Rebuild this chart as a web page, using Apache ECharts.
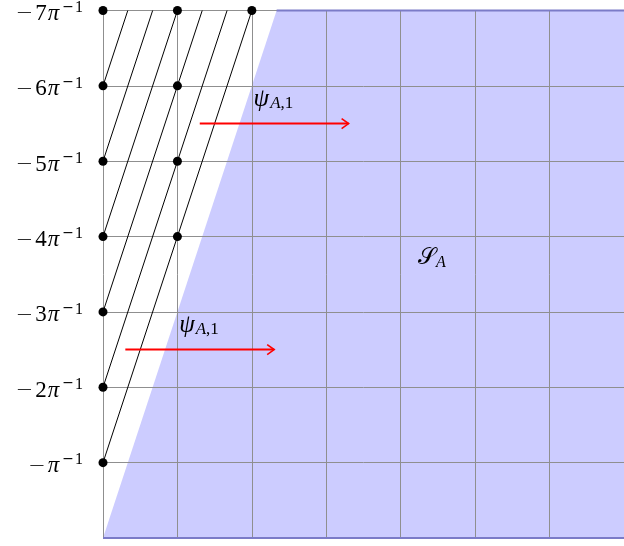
<!DOCTYPE html>
<html><head><meta charset="utf-8">
<script src="https://cdn.jsdelivr.net/npm/echarts@6/dist/echarts.min.js"></script>
<style>html,body{margin:0;padding:0;background:#fff}#c{width:624px;height:546px}</style>
</head><body><div id="c"></div>
<script>
// ---- data ----
const yTickValues = [1, 2, 3, 4, 5, 6, 7];
const yTickCoef = ['', '2', '3', '4', '5', '6', '7'];   // labels: −kπ⁻¹
const yTickSup = '1';
const regionS = [[0, 0], [2.333, 7], [7, 7], [7, 0]];
const hatchLines = [[0, 1, 2, 7], [0, 2, 1.667, 7], [0, 3, 1.333, 7], [0, 4, 1, 7], [0, 5, 0.667, 7], [0, 6, 0.333, 7]];
const dots = [[0, 1], [0, 2], [0, 3], [0, 4], [0, 5], [0, 6], [0, 7], [1, 4], [1, 5], [1, 6], [1, 7], [2, 7]];
const arrows = [[1.3, 5.5, 3.3, 5.5], [0.3, 2.5, 2.3, 2.5]];
const psiLabels = [[2.29, 5.82], [1.29, 2.82]];
const regionLabel = [[4.42, 3.71]];

const serif = "'Liberation Serif', 'DejaVu Serif', serif";
const sans = "'DejaVu Sans', sans-serif";
const chart = echarts.init(document.getElementById('c'));
chart.setOption({
  animation: false,
  grid: { left: 103, right: -9, top: 10, bottom: 8 },
  xAxis: {
    type: 'value', min: 0, max: 7, interval: 1, z: 3,
    axisLine: { show: false }, axisTick: { show: false }, axisLabel: { show: false },
    splitLine: { show: true, lineStyle: { color: '#8f8f8f', width: 1 } }
  },
  yAxis: {
    type: 'value', min: 0, max: 7, interval: 1, z: 3,
    axisLine: { show: false }, axisTick: { show: false },
    axisLabel: {
      margin: 20,
      padding: [7, 0, 0, 0],
      formatter: function (v) {
        const i = yTickValues.indexOf(v);
        if (i < 0) return '';
        return '{n|−}' + (yTickCoef[i] ? '{d|' + yTickCoef[i] + '}' : '') + '{p|π}{sn|−}{s|' + yTickSup + '}';
      },
      rich: {
        n: { fontSize: 21, fontFamily: sans, fontWeight: 300, color: '#000', lineHeight: 28, padding: [0, 2, 0, 0] },
        d: { fontSize: 23, fontFamily: serif, color: '#000', lineHeight: 28, padding: [0, 1, 0, 0] },
        p: { fontSize: 23, fontFamily: serif, fontStyle: 'italic', color: '#000', lineHeight: 28 },
        sn: { fontSize: 14, fontFamily: sans, color: '#000', lineHeight: 12, verticalAlign: 'top', padding: [0, 1, 0, 3] },
        s: { fontSize: 16, fontFamily: serif, color: '#000', lineHeight: 12, verticalAlign: 'top' }
      }
    },
    splitLine: { show: true, lineStyle: { color: '#8f8f8f', width: 1 } }
  },
  series: [
    {
      type: 'custom', z: 1, silent: true, data: [0],
      renderItem: function (params, api) {
        const pts = regionS.map(p => api.coord(p));
        return { type: 'polygon', shape: { points: pts }, style: { fill: '#ccccff', stroke: null } };
      }
    },
    {
      type: 'custom', z: 4, silent: true, data: [0],
      renderItem: function (params, api) {
        const pts = regionS.map(p => api.coord(p));
        return {
          type: 'group', children: [
            { type: 'line', shape: { x1: pts[1][0], y1: pts[1][1], x2: pts[2][0], y2: pts[2][1] }, style: { stroke: '#7b7bc8', lineWidth: 2 } },
            { type: 'line', shape: { x1: pts[0][0], y1: pts[0][1], x2: pts[3][0], y2: pts[3][1] }, style: { stroke: '#7b7bc8', lineWidth: 2 } }
          ]
        };
      }
    },
    {
      type: 'custom', z: 5, silent: true, data: hatchLines,
      encode: { x: [0, 2], y: [1, 3] },
      renderItem: function (params, api) {
        const a = api.coord([api.value(0), api.value(1)]);
        const b = api.coord([api.value(2), api.value(3)]);
        return { type: 'line', shape: { x1: a[0], y1: a[1], x2: b[0], y2: b[1] }, style: { stroke: '#000', lineWidth: 1 } };
      }
    },
    {
      type: 'scatter', z: 6, silent: true, data: dots, symbol: 'circle', symbolSize: 9,
      itemStyle: { color: '#000', opacity: 1 }
    },
    {
      type: 'custom', z: 6, silent: true, data: arrows,
      encode: { x: [0, 2], y: [1, 3] },
      renderItem: function (params, api) {
        const a = api.coord([api.value(0), api.value(1)]);
        const b = api.coord([api.value(2), api.value(3)]);
        return {
          type: 'group', children: [
            { type: 'line', shape: { x1: a[0], y1: a[1], x2: b[0], y2: b[1] }, style: { stroke: '#ff0000', lineWidth: 2 } },
            { type: 'polyline', shape: { points: [[b[0] - 7, b[1] - 5], [b[0], b[1]], [b[0] - 7, b[1] + 5]] }, style: { stroke: '#ff0000', lineWidth: 1.6, fill: null } }
          ]
        };
      }
    },
    {
      type: 'custom', z: 7, silent: true, data: psiLabels,
      renderItem: function (params, api) {
        const p = api.coord([api.value(0), api.value(1)]);
        return {
          type: 'text', x: p[0], y: p[1],
          style: {
            text: '{p|ψ}{s|A}{t|,1}', align: 'center', verticalAlign: 'middle',
            rich: {
              p: { fontSize: 25, fontStyle: 'italic', fontFamily: serif, fill: '#000', lineHeight: 26 },
              s: { fontSize: 17, fontStyle: 'italic', fontFamily: serif, fill: '#000', lineHeight: 12, verticalAlign: 'bottom', padding: [0, 0, 0, 1] },
              t: { fontSize: 17, fontFamily: serif, fill: '#000', lineHeight: 12, verticalAlign: 'bottom' }
            }
          }
        };
      }
    },
    {
      type: 'custom', z: 7, silent: true, data: regionLabel,
      renderItem: function (params, api) {
        const p = api.coord([api.value(0), api.value(1)]);
        return {
          type: 'text', x: p[0], y: p[1],
          style: {
            text: '{p|𝒮}{s|A}', align: 'center', verticalAlign: 'middle',
            rich: {
              p: { fontSize: 23, fontFamily: serif, fill: '#000', lineHeight: 24 },
              s: { fontSize: 16, fontStyle: 'italic', fontFamily: serif, fill: '#000', lineHeight: 12, verticalAlign: 'bottom' }
            }
          }
        };
      }
    }
  ]
});
</script></body></html>
